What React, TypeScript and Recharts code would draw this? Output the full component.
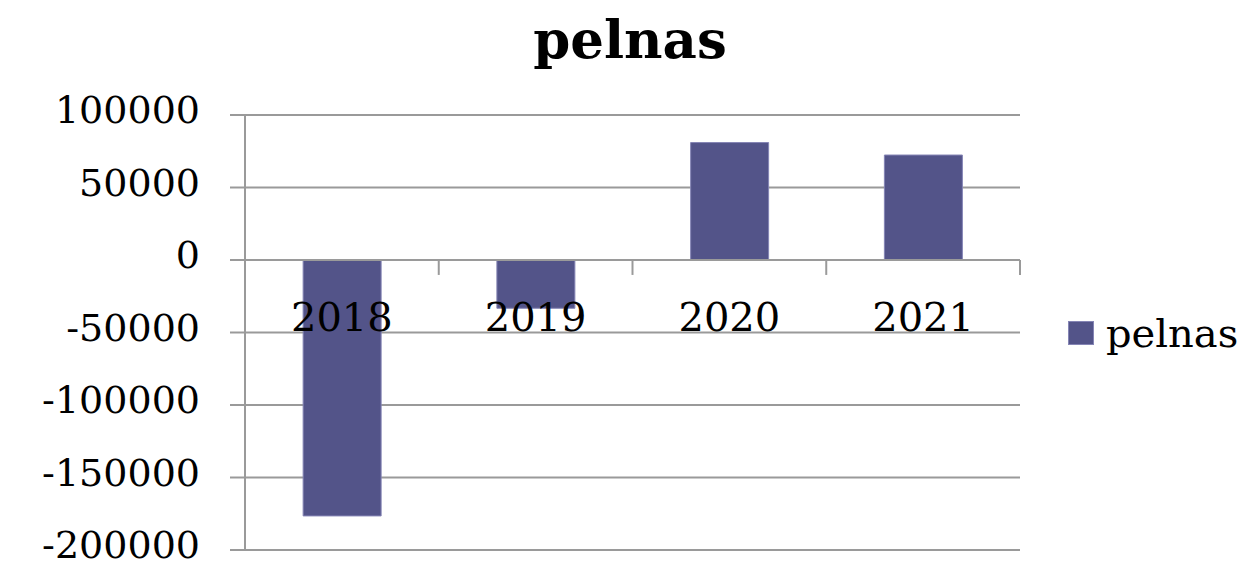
import React from 'react';
import {
  BarChart,
  Bar,
  XAxis,
  YAxis,
  CartesianGrid,
  ReferenceLine,
  ReferenceDot,
  Legend,
} from 'recharts';

const title = 'pelnas';
const seriesName = 'pelnas';
const categories = ['2018', '2019', '2020', '2021'];
const pelnasValues = [-176500, -33300, 81000, 72400];
const yTicks = [-200000, -150000, -100000, -50000, 0, 50000, 100000];
const categoryBoundaries = [1, 2, 3, 4];

const data = categories.map((year, i) => ({ year, slot: i + 0.5, [seriesName]: pelnasValues[i] }));

const FONT = '"DejaVu Serif", "Liberation Serif", serif';
const GRID = '#9a9a9a';
const BAR = '#535489';
const BAR_EDGE = '#8585b5';
const TICK_LEN_DATA = 10300;

const LegendContent = () => (
  <div style={{ display: 'flex', alignItems: 'center', fontFamily: FONT, fontSize: 40, color: '#000' }}>
    <div style={{ width: 26, height: 24, background: BAR, border: `1px solid ${BAR_EDGE}`, boxSizing: 'border-box', marginRight: 12 }} />
    <span style={{ lineHeight: '44px' }}>{seriesName}</span>
  </div>
);

const YTick = (props: any) => {
  const { x, y, payload } = props;
  return (
    <text x={x} y={y} dy={8} textAnchor="end" fill="#000" fontSize={38} fontFamily={FONT}>
      {payload.value}
    </text>
  );
};

export default function App() {
  return (
    <div style={{ position: 'absolute', left: 0, top: 0, width: 1248, height: 567, background: '#fff' }}>
      <div
        style={{
          position: 'absolute',
          left: 0,
          top: 13,
          width: 1260,
          textAlign: 'center',
          fontFamily: FONT,
          fontWeight: 'bold',
          fontSize: 53,
          lineHeight: '53px',
          color: '#000',
        }}
      >
        {title}
      </div>
      <BarChart
        width={1248}
        height={567}
        data={data}
        margin={{ top: 115, right: 48, bottom: 17, left: 0 }}
        barCategoryGap="30%"
      >
        <CartesianGrid vertical={false} stroke={GRID} strokeWidth={2} />
        <XAxis dataKey="year" hide />
        <XAxis
          xAxisId="b"
          dataKey="slot"
          type="number"
          domain={[0, 4]}
          allowDataOverflow
          hide
        />
        <YAxis
          width={245}
          domain={[-200000, 100000]}
          ticks={yTicks}
          interval={0}
          tickSize={15}
          tickMargin={30}
          axisLine={{ stroke: GRID, strokeWidth: 2 }}
          tickLine={{ stroke: GRID, strokeWidth: 2 }}
          tick={<YTick />}
        />
        <Legend
          layout="vertical"
          align="right"
          verticalAlign="middle"
          content={LegendContent}
          wrapperStyle={{ position: 'absolute', left: 1068, top: 311, right: 'auto', width: 180 }}
        />
        <Bar
          dataKey={seriesName}
          name={seriesName}
          fill={BAR}
          stroke={BAR_EDGE}
          strokeWidth={1}
          isAnimationActive={false}
        />
        <ReferenceLine y={0} stroke={GRID} strokeWidth={2} />
        {categoryBoundaries.map((b) => (
          <ReferenceLine
            key={b}
            xAxisId="b"
            ifOverflow="visible"
            segment={[
              { x: b, y: 0 },
              { x: b, y: -TICK_LEN_DATA },
            ]}
            stroke={GRID}
            strokeWidth={2}
          />
        ))}
        {categories.map((c) => (
          <ReferenceDot
            key={c}
            x={c}
            y={0}
            r={1}
            fill="none"
            stroke="none"
            label={{ value: c, position: 'bottom', offset: 42, fill: '#000', fontSize: 40, fontFamily: FONT }}
          />
        ))}
      </BarChart>
    </div>
  );
}
